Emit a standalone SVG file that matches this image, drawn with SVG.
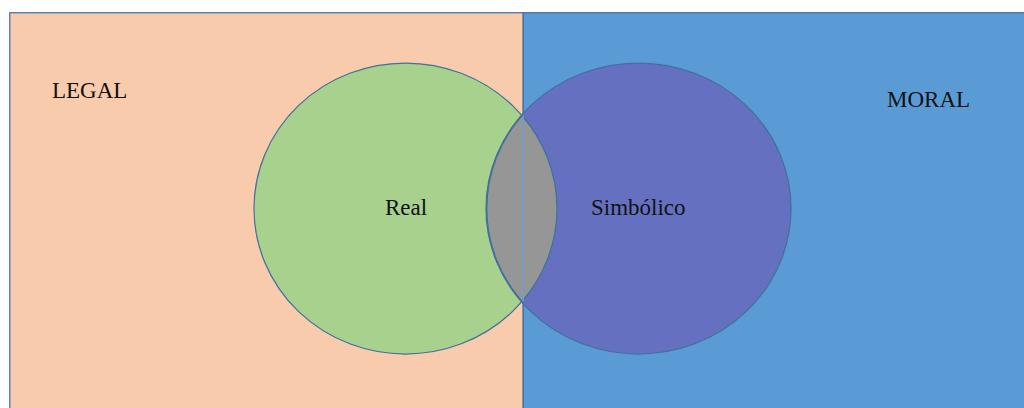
<svg xmlns="http://www.w3.org/2000/svg" width="1024" height="408" viewBox="0 0 1024 408">
<style>
.lbl{font-family:"Liberation Serif","Times New Roman",serif;font-size:23px;fill:#111}
.edge{stroke:#41719C;stroke-width:1.25}
</style>
<rect width="1024" height="408" fill="#ffffff"/>
<g id="legal">
<rect class="edge" x="9.75" y="12.75" width="513.5" height="410" fill="#F8CBAD"/>
<text class="lbl" x="52" y="98">LEGAL</text>
</g>
<g id="moral">
<rect class="edge" x="523.25" y="12.75" width="520" height="410" fill="#5B9BD5"/>
<text class="lbl" x="887" y="107">MORAL</text>
</g>
<g id="real">
<ellipse class="edge" cx="405.5" cy="208.5" rx="151.5" ry="145.5" fill="#A9D18E"/>
</g>
<g id="simbolico">
<ellipse class="edge" cx="638.5" cy="208.5" rx="152.5" ry="145.5" fill="#6571C0"/>
</g>
<g id="overlap">
<path class="edge" d="M522 115.5 A151.5 145.5 0 0 1 522 301.5 A152.5 145.5 0 0 1 522 115.5 Z" fill="#969696"/>
<line x1="523.25" y1="115.5" x2="523.25" y2="301.5" stroke="#6A9FD2" stroke-width="1.5"/>
</g>
<g id="labels">
<text class="lbl" x="385" y="215">Real</text>
<text class="lbl" x="591" y="215">Simbólico</text>
</g>
</svg>
